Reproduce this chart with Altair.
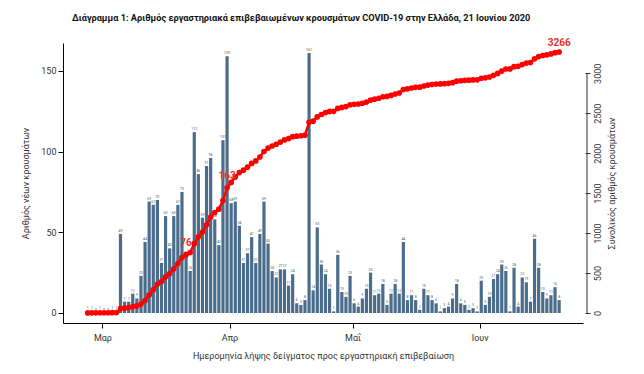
import altair as alt
import pandas as pd

start_date = "2020-02-26"
new_cases = [1, 1, 0, 1, 0, 0, 1, 1,
             49, 7, 7, 12, 9, 23, 44,
             69, 67, 70, 31, 60, 40, 60,
             67, 75, 35, 26, 112, 86,
             59,
             91, 96, 58, 42, 107, 159,
             68, 69, 54, 31, 37, 47, 31,
             49, 69, 43, 26, 22, 27, 27,
             17, 24, 6, 5, 8, 161, 14,
             53, 30, 24, 15, 1, 36, 13,
             10, 23, 6, 4, 9, 15, 25,
             11, 12, 18, 5, 12, 18, 12,
             44, 8, 11, 8, 2, 15, 11,
             8, 6, 1, 3, 4, 9, 18,
             6, 5, 2, 3, 1, 20, 5,
             10, 21, 24, 30, 26, 1, 28,
             4, 22, 19, 7, 46, 28, 13,
             9, 11, 16, 8]
month_labels = ["Μαρ", "Απρ", "Μαΐ", "Ιουν"]
month_starts = ["2020-03-01", "2020-04-01", "2020-05-01", "2020-06-01"]
left_ticks = [0, 50, 100, 150]
right_ticks = [0, 500, 1000, 1500, 2000, 2500, 3000]
annot_labels = ["76", "163"]
annot_days = [24, 34]

df = pd.DataFrame({"day": range(len(new_cases)), "cases": new_cases})
df["cum"] = df["cases"].cumsum()
s0 = pd.Timestamp(start_date)
tick_vals = [(pd.Timestamp(m) - s0).days - 0.4 for m in month_starts]

last = df.iloc[[-1]].copy()
last["label"] = last["cum"].astype(str)
ann = pd.DataFrame({"day": annot_days, "label": annot_labels})
ann["cum"] = [int(df.loc[d, "cum"]) for d in annot_days]

label_expr = " : ".join(
    f"datum.value < {v + 1} ? '{lab}'" for v, lab in zip(tick_vals[:-1], month_labels[:-1])
) + f" : '{month_labels[-1]}'"

FONT = "Roboto"
xscale = alt.Scale(domain=[-4.8, 119.6], nice=False, zero=False)
xaxis = alt.Axis(values=tick_vals, labelExpr=label_expr, title="Ημερομηνία λήψης δείγματος προς εργαστηριακή επιβεβαίωση",
                 grid=False, tickSize=5, tickColor="black", domainColor="black", labelFontSize=9,
                 titleFontSize=9, titleFontWeight="normal", labelColor="#333", titleColor="#333",
                 labelPadding=5, titlePadding=9, labelFont=FONT, titleFont=FONT)

yleft = alt.Scale(domain=[-6.2, 167.2], nice=False, zero=False)
yright = alt.Scale(domain=[-125, 3379], nice=False, zero=False)

base = alt.Chart(df)
bars = base.mark_bar(color="#4a6d8c", size=3.2).encode(
    x=alt.X("day:Q", scale=xscale, axis=xaxis),
    y=alt.Y("cases:Q", scale=yleft,
            axis=alt.Axis(values=left_ticks, title="Αριθμός νέων κρουσμάτων", grid=False, tickSize=5,
                          tickColor="black", domainColor="black", labelFontSize=9, titleFontSize=9,
                          titleFontWeight="normal", labelColor="#333", titleColor="#333",
                          labelFont=FONT, titleFont=FONT, titlePadding=10)),
    y2=alt.datum(0),
)
bar_text = base.mark_text(fontSize=3.5, dy=-3, color="#555", font=FONT).encode(
    x=alt.X("day:Q", scale=xscale), y=alt.Y("cases:Q", scale=yleft), text="cases:Q")
left = alt.layer(bars, bar_text)

line = base.mark_line(color="#ff0000", strokeWidth=2.5).encode(
    x=alt.X("day:Q", scale=xscale),
    y=alt.Y("cum:Q", scale=yright,
            axis=alt.Axis(orient="right", values=right_ticks, format="d", title="Συνολικός αριθμός κρουσμάτων",
                          grid=False, domain=False, tickSize=5, tickColor="#333", labelFontSize=9, titleFontSize=9,
                          titleFontWeight="normal", labelColor="#333", titleColor="#333", labelAngle=-90,
                          labelAlign="center", labelBaseline="middle", labelPadding=7, offset=2,
                          titleAngle=-90, titlePadding=14, labelFont=FONT, titleFont=FONT)))
points = base.mark_circle(color="#ff0000", size=32, opacity=1).encode(
    x=alt.X("day:Q", scale=xscale), y=alt.Y("cum:Q", scale=yright))
axis_line = alt.Chart(pd.DataFrame({"a": [0]})).mark_rule(color="#333", strokeWidth=1).encode(
    x=alt.value(524), y=alt.datum(right_ticks[0], scale=yright), y2=alt.datum(right_ticks[-1]))
last_lbl = alt.Chart(last).mark_text(color="#e8322c", fontWeight="bold", fontSize=10, dy=-9, font=FONT).encode(
    x=alt.X("day:Q", scale=xscale), y=alt.Y("cum:Q", scale=yright), text="label:N")
ann_lbl = alt.Chart(ann).mark_text(color="#e8322c", fontWeight="bold", fontSize=10, dy=-12, font=FONT).encode(
    x=alt.X("day:Q", scale=xscale), y=alt.Y("cum:Q", scale=yright), text="label:N")
right = alt.layer(line, points, axis_line, last_lbl, ann_lbl)

chart = alt.layer(left, right).resolve_scale(y="independent").properties(
    width=520, height=280,
    autosize=alt.AutoSizeParams(type="none"),
    padding={"left": 55, "top": 35, "right": 50, "bottom": 40},
    title=alt.Title("Διάγραμμα 1: Αριθμός εργαστηριακά επιβεβαιωμένων κρουσμάτων COVID-19 στην Ελλάδα, 21 Ιουνίου 2020",
                    anchor="start", frame="group", dx=9, offset=15, fontSize=9.2, fontWeight="bold", font=FONT,
                    color="#111"),
).configure_view(stroke=None)

chart.save("out.html", embed_options={"renderer": "svg", "actions": False})
